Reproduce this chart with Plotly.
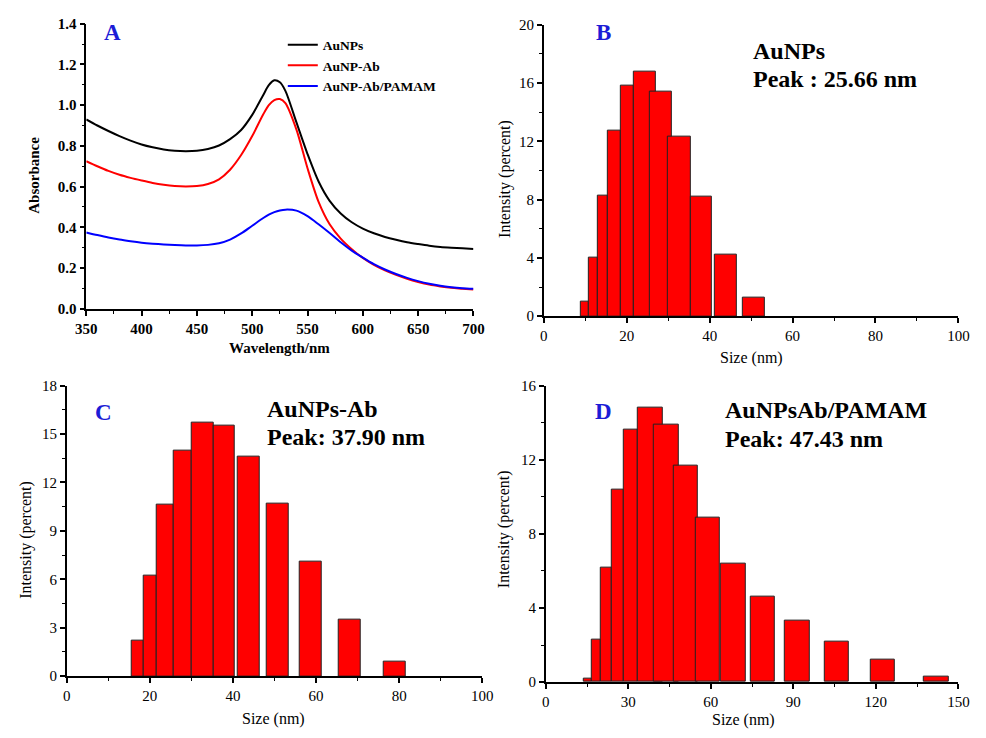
import plotly.graph_objects as go

W, H = 986, 738
FONT = "Liberation Serif"

# ---------------- Panel A: UV-vis absorbance ----------------
wavelength = [350, 360, 370, 380, 390, 400, 410, 420, 430, 440, 450, 460, 470, 480,
              490, 500, 510, 515, 520, 525, 530, 540, 550, 560, 570, 580, 590, 600,
              610, 620, 630, 640, 650, 660, 670, 680, 690, 700]
abs_aunps = [0.930, 0.900, 0.873, 0.848, 0.826, 0.807, 0.793, 0.782, 0.776, 0.774,
             0.776, 0.785, 0.802, 0.833, 0.878, 0.952, 1.050, 1.098, 1.122, 1.112,
             1.070, 0.915, 0.760, 0.625, 0.530, 0.468, 0.425, 0.394, 0.371, 0.353,
             0.339, 0.327, 0.318, 0.310, 0.304, 0.300, 0.297, 0.294]
abs_aunp_ab = [0.725, 0.700, 0.677, 0.658, 0.643, 0.630, 0.618, 0.609, 0.603, 0.601,
               0.603, 0.613, 0.636, 0.683, 0.755, 0.848, 0.955, 1.000, 1.025, 1.030,
               1.010, 0.880, 0.690, 0.525, 0.415, 0.345, 0.293, 0.250, 0.216, 0.189,
               0.167, 0.148, 0.132, 0.119, 0.110, 0.103, 0.099, 0.095]
abs_aunp_ab_pamam = [0.375, 0.362, 0.350, 0.340, 0.332, 0.325, 0.320, 0.316, 0.313,
                     0.311, 0.311, 0.314, 0.322, 0.340, 0.370, 0.408, 0.446, 0.463,
                     0.475, 0.483, 0.487, 0.482, 0.455, 0.415, 0.372, 0.327, 0.286,
                     0.251, 0.219, 0.193, 0.171, 0.152, 0.136, 0.123, 0.113, 0.106,
                     0.101, 0.098]
series_names = ["AuNPs", "AuNP-Ab", "AuNP-Ab/PAMAM"]

# ---------------- Panel B: AuNPs size distribution ----------------
b_left = [8.96, 10.85, 13.04, 15.50, 18.47, 21.77, 25.54, 30.02, 35.38, 41.27, 48.11]
b_right = [10.85, 13.04, 15.50, 18.47, 21.77, 26.96, 30.83, 35.38, 40.57, 46.53, 53.37]
b_int = [1.0, 4.0, 8.3, 12.7, 15.8, 16.8, 15.4, 12.3, 8.2, 4.2, 1.3]

# ---------------- Panel C: AuNPs-Ab size distribution ----------------
c_left = [15.53, 18.52, 21.72, 25.65, 30.12, 35.36, 41.25, 48.16, 56.07, 65.41, 76.24]
c_right = [18.52, 21.72, 25.65, 30.12, 35.36, 40.54, 46.52, 53.41, 61.41, 70.75, 81.48]
c_int = [2.2, 6.2, 10.6, 14.0, 15.7, 15.5, 13.6, 10.7, 7.1, 3.5, 0.9]

# ---------------- Panel D: AuNPsAb/PAMAM size distribution ----------------
d_left = [13.96, 16.55, 20.11, 23.91, 28.42, 33.50, 39.43, 46.54, 54.46, 63.59,
          74.60, 87.03, 101.35, 118.15, 137.58]
d_right = [16.55, 20.11, 23.91, 28.42, 33.50, 42.38, 48.31, 55.17, 63.34, 72.58,
           83.34, 95.91, 110.23, 126.93, 146.47]
d_int = [0.2, 2.3, 6.2, 10.4, 13.6, 14.8, 13.9, 11.7, 8.9, 6.4, 4.6, 3.3, 2.2, 1.2, 0.3]

panel_labels = ["A", "B", "C", "D"]
b_text = ["AuNPs", "Peak : 25.66 nm"]
c_text = ["AuNPs-Ab", "Peak: 37.90 nm"]
d_text = ["AuNPsAb/PAMAM", "Peak: 47.43 nm"]

fig = go.Figure()

line_colors = ["#000000", "#FF0000", "#0000FF"]
for name, ys, col in zip(series_names, [abs_aunps, abs_aunp_ab, abs_aunp_ab_pamam], line_colors):
    fig.add_trace(go.Scatter(x=wavelength, y=ys, mode="lines", name=name,
                             line=dict(color=col, width=2, shape="spline", smoothing=0.8),
                             xaxis="x", yaxis="y"))


def bars(left, right, vals, xa, ya):
    centers = [(l + r) / 2 for l, r in zip(left, right)]
    widths = [r - l for l, r in zip(left, right)]
    return go.Bar(x=centers, y=vals, width=widths, base=0, showlegend=False,
                  marker=dict(color="#FF0000", line=dict(color="#222222", width=1)),
                  xaxis=xa, yaxis=ya)


fig.add_trace(bars(b_left, b_right, b_int, "x2", "y2"))
fig.add_trace(bars(c_left, c_right, c_int, "x3", "y3"))
fig.add_trace(bars(d_left, d_right, d_int, "x4", "y4"))


def axis(px0, px1, rng, dtick, minor, bold, anchor, vertical=False, fmt=None):
    if vertical:
        dom = [1 - px1 / H, 1 - px0 / H]
    else:
        dom = [px0 / W, px1 / W]
    d = dict(domain=dom, range=rng, dtick=dtick, tick0=0, ticks="outside", ticklen=5,
             tickwidth=1.5, tickcolor="black", showline=True, linecolor="black",
             linewidth=1.5, showgrid=False, zeroline=False, anchor=anchor,
             fixedrange=True,
             minor=dict(dtick=minor, ticks="outside", ticklen=3, tickwidth=1.2,
                        tickcolor="black", showgrid=False),
             tickfont=dict(family=FONT, size=15, color="black",
                           weight="bold" if bold else "normal"))
    if fmt:
        d["tickformat"] = fmt
    return d


layout = dict(
    width=W, height=H, autosize=False,
    margin=dict(l=0, r=0, t=0, b=0),
    paper_bgcolor="white", plot_bgcolor="white",
    barmode="overlay", bargap=0,
    xaxis=axis(77, 473, [350, 700], 50, 25, True, "y"),
    yaxis=axis(16, 307.5, [0, 1.4], 0.2, 0.1, True, "x", vertical=True, fmt=".1f"),
    xaxis2=axis(545, 969, [0, 100], 20, 10, False, "y2"),
    yaxis2=axis(17, 315, [0, 20], 4, 2, False, "x2", vertical=True),
    xaxis3=axis(57, 482, [0, 100], 20, 10, False, "y3"),
    yaxis3=axis(386, 683, [0, 18], 3, 1.5, False, "x3", vertical=True),
    xaxis4=axis(547, 969, [0, 150], 30, 15, False, "y4"),
    yaxis4=axis(386, 689, [0, 16], 4, 2, False, "x4", vertical=True),
    legend=dict(x=278 / W, y=1 - 22 / H, xanchor="left", yanchor="top",
                font=dict(family=FONT, size=13.5, color="black", weight="bold"),
                bgcolor="rgba(0,0,0,0)", tracegroupgap=0),
    showlegend=True,
)
fig.update_layout(**layout)


def txt(x, y, s, size, color="black", bold=True, angle=0, anchor="center"):
    return dict(x=x / W, y=1 - y / H, xref="paper", yref="paper", text=s,
                showarrow=False, textangle=angle, xanchor=anchor, yanchor="middle",
                font=dict(family=FONT, size=size, color=color,
                          weight="bold" if bold else "normal"))


LBL = "#1C1CD6"
ann = [
    txt(104, 25, panel_labels[0], 23, LBL),
    txt(606, 25, panel_labels[1], 23, LBL),
    txt(95, 413, panel_labels[2], 23, LBL),
    txt(606, 412, panel_labels[3], 23, LBL),
    txt(757, 44, b_text[0], 24, anchor="left"),
    txt(757, 73, b_text[1], 24, anchor="left"),
    txt(260, 410, c_text[0], 24, anchor="left"),
    txt(260, 439, c_text[1], 24, anchor="left"),
    txt(728, 411, d_text[0], 24, anchor="left"),
    txt(728, 441, d_text[1], 24, anchor="left"),
    # axis titles
    txt(24, 171, "Absorbance", 15, angle=-90),
    txt(275, 348, "Wavelength/nm", 15),
    txt(505, 175, "Intensity (percent)", 16, bold=False, angle=-90),
    txt(757, 358, "Size (nm)", 16, bold=False),
    txt(16, 544, "Intensity (percent)", 16, bold=False, angle=-90),
    txt(269, 727, "Size (nm)", 16, bold=False),
    txt(505, 533, "Intensity (percent)", 16, bold=False, angle=-90),
    txt(749, 728, "Size (nm)", 16, bold=False),
]
fig.update_layout(annotations=ann)

fig.write_html("out.html", config={"displayModeBar": False},
               post_script="document.body.style.margin='0';document.body.style.overflow='hidden';")
